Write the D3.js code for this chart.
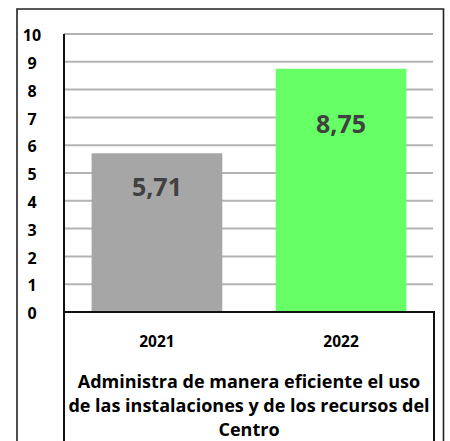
<!DOCTYPE html>
<html>
<head>
<meta charset="utf-8">
<script src="https://cdn.jsdelivr.net/npm/d3@7"></script>
<style>
html,body{margin:0;padding:0;background:#fff;}
svg{display:block;font-family:"Open Sans", sans-serif;font-weight:700;}
</style>
</head>
<body>
<svg id="chart" width="450" height="441"></svg>
<script>
const categories = ["2021", "2022"];
const values = [5.71, 8.75];
const valueLabels = ["5,71", "8,75"];
const barColors = ["#a6a6a6", "#66ff66"];
const yTicks = [0, 1, 2, 3, 4, 5, 6, 7, 8, 9, 10];
const titleLines = ["Administra de manera eficiente el uso", "de las instalaciones y de los recursos del", "Centro"];

const svg = d3.select("#chart");
const W = 450, H = 441;
const plot = {left: 64, right: 434, top: 34, bottom: 312};

svg.append("path")
  .attr("d", `M17,${H+5} V9 H443.5 V${H+5}`)
  .attr("fill", "none").attr("stroke", "#222").attr("stroke-width", 1.6);

const y = d3.scaleLinear().domain([0, 10]).range([plot.bottom, plot.top]);
const x = d3.scaleBand().domain(categories).range([plot.left, plot.right])
  .paddingInner(0.29).paddingOuter(0.15);

svg.append("g").selectAll("line").data(yTicks.filter(d => d > 0)).join("line")
  .attr("x1", plot.left).attr("x2", plot.right - 1)
  .attr("y1", d => y(d)).attr("y2", d => y(d))
  .attr("stroke", "#b3b3b3").attr("stroke-width", 2);

svg.append("g").selectAll("rect").data(values).join("rect")
  .attr("x", (d, i) => x(categories[i]))
  .attr("width", x.bandwidth())
  .attr("y", d => y(d))
  .attr("height", d => y(0) - y(d))
  .attr("fill", (d, i) => barColors[i]);

svg.append("g").selectAll("text").data(values).join("text")
  .attr("x", (d, i) => x(categories[i]) + x.bandwidth() / 2)
  .attr("y", d => y(d) + 0.25 * (y(0) - y(d)) + 3)
  .attr("text-anchor", "middle")
  .attr("font-size", 25).attr("fill", "#404040")
  .text((d, i) => valueLabels[i]);

svg.append("g").selectAll("text").data(yTicks).join("text")
  .attr("x", 32).attr("y", d => y(d) + 1.5)
  .attr("dy", "0.36em")
  .attr("text-anchor", "middle")
  .attr("font-size", 16).attr("fill", "#000")
  .text(d => d);

svg.append("path")
  .attr("d", `M${plot.left},${plot.top} V${H+5} M${plot.left},${plot.bottom} H${plot.right} V${H+5}`)
  .attr("fill", "none").attr("stroke", "#111").attr("stroke-width", 2);

svg.append("g").selectAll("text").data(categories).join("text")
  .attr("x", d => x(d) + x.bandwidth() / 2)
  .attr("y", 347)
  .attr("text-anchor", "middle")
  .attr("font-size", 15.5).attr("fill", "#000")
  .text(d => d);

svg.append("g").selectAll("text").data(titleLines).join("text")
  .attr("x", (plot.left + plot.right) / 2)
  .attr("y", (d, i) => 388 + i * 24)
  .attr("text-anchor", "middle")
  .attr("font-size", 18).attr("fill", "#000")
  .text(d => d);
</script>
</body>
</html>
